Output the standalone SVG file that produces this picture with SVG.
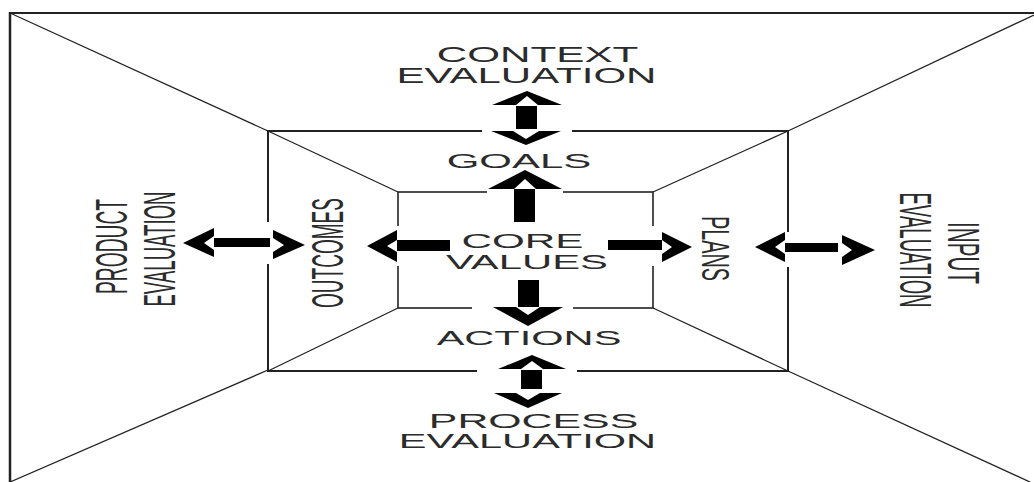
<svg xmlns="http://www.w3.org/2000/svg" width="1034" height="482" viewBox="0 0 1034 482">
<style>
.frame{stroke:#222;stroke-width:2;fill:none}
.diag{stroke:#222;stroke-width:1.3;fill:none}
.bg{fill:#fff;stroke:none}
.ar{fill:#000;stroke:none}
.t{font-family:"Liberation Sans",Arial,sans-serif;fill:#2b2b2b;text-anchor:middle}
</style>
<rect width="1034" height="482" fill="#fff"/>
<g id="frame">
<line class="frame" x1="9" y1="13" x2="1034" y2="13"/>
<line class="frame" x1="10" y1="12" x2="10" y2="482" style="stroke-width:2.5"/>
<line class="diag" x1="10" y1="13" x2="268" y2="131"/>
<line class="diag" x1="10" y1="482" x2="268" y2="370"/>
<line class="diag" x1="1034" y1="15" x2="788" y2="131"/>
<line class="diag" x1="788" y1="371" x2="1030" y2="482"/>
<rect class="frame" x="268" y="131" width="520" height="240"/>
<line class="diag" x1="268" y1="131" x2="398" y2="192"/>
<line class="diag" x1="788" y1="131" x2="653" y2="192"/>
<line class="diag" x1="268" y1="371" x2="398" y2="308"/>
<line class="diag" x1="788" y1="371" x2="653" y2="308"/>
<rect class="frame" x="398" y="192" width="255" height="116" style="stroke-width:1.6"/>
</g>
<g id="backgrounds">
<rect class="bg" x="482" y="88" width="90" height="60"/>
<rect class="bg" x="487" y="168" width="76" height="28"/>
<rect class="bg" x="362" y="226" width="90" height="40"/>
<rect class="bg" x="605" y="226" width="92" height="40"/>
<rect class="bg" x="472" y="276" width="101" height="52"/>
<rect class="bg" x="477" y="350" width="100" height="62"/>
<rect class="bg" x="180" y="222" width="128" height="42"/>
<rect class="bg" x="752" y="232" width="126" height="35"/>
</g>
<g id="connectors">
<g id="arrow-context">
<polygon class="ar" points="527,91 562,105 538,105 527,96 516,105 492,105"/>
<rect class="ar" x="516" y="106" width="21" height="23"/>
<polygon class="ar" points="526,145 561,131 539,131 526,139 513,131 491,131"/>
</g>
<g id="arrow-goals">
<polygon class="ar" points="525,170 562,189 536,189 525,179 514,189 488,189"/>
<rect class="ar" x="514" y="189" width="21" height="33"/>
</g>
<g id="arrow-actions">
<rect class="ar" x="518" y="280" width="21" height="27"/>
<polygon class="ar" points="528,326 563,307 540,307 528,315 516,307 493,307"/>
</g>
<g id="arrow-process">
<polygon class="ar" points="532,355 566,369 543,369 532,361 521,369 498,369"/>
<rect class="ar" x="521" y="370" width="21" height="19"/>
<polygon class="ar" points="528,408 562,393 540,393 528,400 516,393 494,393"/>
</g>
<g id="arrow-outcomes">
<polygon class="ar" points="367,246 397,230 397,240 387,246 397,252 397,262"/>
<rect class="ar" x="397" y="240" width="53" height="11"/>
</g>
<g id="arrow-plans">
<rect class="ar" x="608" y="240" width="54" height="10"/>
<polygon class="ar" points="692,247 662,232 662,240 672,247 662,254 662,262"/>
</g>
<g id="arrow-product">
<polygon class="ar" points="183,243 214,228 214,236 204,243 214,250 214,257"/>
<rect class="ar" x="214" y="238" width="56" height="9"/>
<polygon class="ar" points="305,245 273,230 273,238 284,245 273,252 273,259"/>
</g>
<g id="arrow-input">
<polygon class="ar" points="755,247 785,232 785,240 775,247 785,254 785,262"/>
<rect class="ar" x="785" y="243" width="53" height="9"/>
<polygon class="ar" points="875,250 842,235 842,243 852,250 842,257 842,265"/>
</g>
</g>
<g id="context">
<text class="t" transform="translate(537.5,62) scale(1.92,1)" font-size="22">CONTEXT</text>
<text class="t" transform="translate(526.5,83) scale(1.91,1)" font-size="22">EVALUATION</text>
</g>
<g id="goals">
<text class="t" transform="translate(519,168) scale(2.1,1)" font-size="20">GOALS</text>
</g>
<g id="core">
<text class="t" transform="translate(522.5,248) scale(2.01,1)" font-size="21">CORE</text>
<text class="t" transform="translate(527,269) scale(1.99,1)" font-size="21">VALUES</text>
</g>
<g id="actions">
<text class="t" transform="translate(529,345) scale(1.98,1)" font-size="21">ACTIONS</text>
</g>
<g id="process">
<text class="t" transform="translate(533.5,428) scale(2.04,1)" font-size="21">PROCESS</text>
<text class="t" transform="translate(527.5,448) scale(2.08,1)" font-size="20">EVALUATION</text>
</g>
<g id="product">
<text class="t" transform="translate(127,246.5) rotate(-90) scale(0.437,1)" font-size="44">PRODUCT</text>
<text class="t" transform="translate(175,249) rotate(-90) scale(0.423,1)" font-size="44">EVALUATION</text>
</g>
<g id="outcomes">
<text class="t" transform="translate(343,253) rotate(-90) scale(0.423,1)" font-size="45">OUTCOMES</text>
</g>
<g id="plans">
<text class="t" transform="translate(702,248.5) rotate(90) scale(0.508,1)" font-size="39">PLANS</text>
</g>
<g id="input">
<text class="t" transform="translate(948,253) rotate(90) scale(0.459,1)" font-size="45">INPUT</text>
<text class="t" transform="translate(900,250) rotate(90) scale(0.423,1)" font-size="44">EVALUATION</text>
</g>
</svg>
